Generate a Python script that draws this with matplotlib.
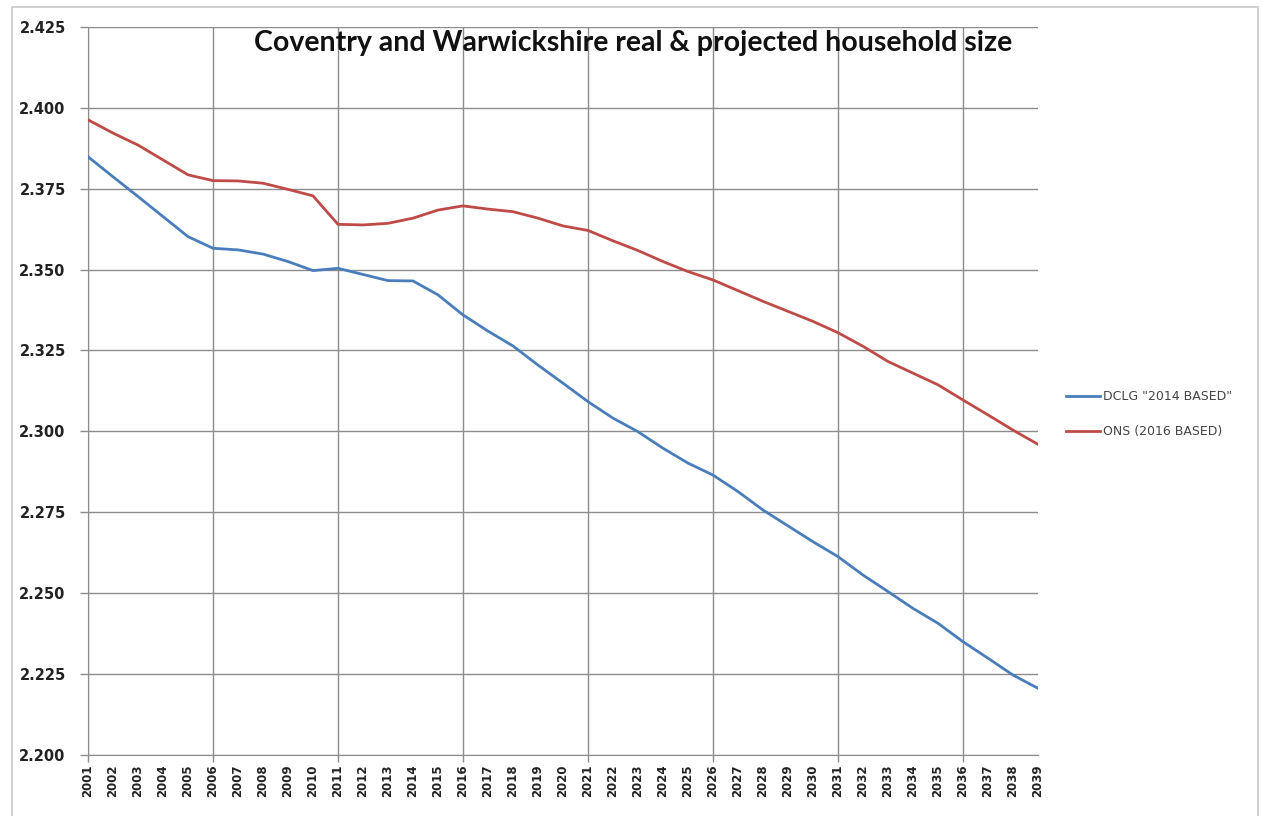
# Coventry and Warwickshire household size - real and projected (2001-2039)
import numpy as np
import matplotlib.pyplot as plt
from matplotlib.patches import Rectangle
from matplotlib.ticker import FixedLocator

years = list(range(2001, 2040))

# DCLG "2014 BASED" (blue line)
dclg_2014 = [2.3849, 2.3787, 2.3726, 2.3664, 2.3602, 2.3566, 2.3561, 2.3548, 2.3525, 2.3497,
             2.3504, 2.3485, 2.3466, 2.3465, 2.3422, 2.3360, 2.3310, 2.3264, 2.3205, 2.3149,
             2.3092, 2.3041, 2.2999, 2.2948, 2.2902, 2.2865, 2.2814, 2.2757, 2.2708, 2.2659,
             2.2613, 2.2556, 2.2505, 2.2453, 2.2407, 2.2350, 2.2299, 2.2247, 2.2206]

# ONS (2016 BASED) (red line)
ons_2016 = [2.3963, 2.3922, 2.3885, 2.3839, 2.3793, 2.3775, 2.3774, 2.3767, 2.3748, 2.3728,
            2.3640, 2.3638, 2.3643, 2.3659, 2.3684, 2.3697, 2.3687, 2.3679, 2.3659, 2.3635,
            2.3621, 2.3589, 2.3559, 2.3525, 2.3494, 2.3468, 2.3435, 2.3402, 2.3371, 2.3340,
            2.3305, 2.3263, 2.3216, 2.3180, 2.3144, 2.3097, 2.3051, 2.3004, 2.2960]

y_ticks = [2.200, 2.225, 2.250, 2.275, 2.300, 2.325, 2.350, 2.375, 2.400, 2.425]

title = "Coventry and Warwickshire real & projected household size"

fig = plt.figure(figsize=(12.62, 8.16), dpi=100)
ax = fig.add_axes([0.0697, 0.0748, 0.7528, 0.8922])

# thin grey frame around the whole chart area
fig.patches.append(Rectangle((0.0095, -0.01), 0.987, 1.002, transform=fig.transFigure,
                             fill=False, edgecolor='#c8c8c8', linewidth=1.2))

ax.plot(years, dclg_2014, color='#4a7ebb', linewidth=2.0, label='DCLG "2014 BASED"', zorder=3)
ax.plot(years, ons_2016, color='#be4b48', linewidth=2.0, label='ONS (2016 BASED)', zorder=3)

ax.set_xlim(years[0], years[-1])
ax.set_ylim(y_ticks[0], y_ticks[-1])

# every year labelled, grid/ticks every 5 years
ax.xaxis.remove_overlapping_locs = False
ax.xaxis.set_major_locator(FixedLocator(years))
ax.set_xticklabels([str(y) for y in years], rotation=90, fontsize=8.5,
                   fontweight='bold', color='#222222')
ax.xaxis.set_minor_locator(FixedLocator(years[::5]))
ax.tick_params(axis='x', which='major', length=0, pad=7)
ax.tick_params(axis='x', which='minor', length=5, color='#8c8c8c', width=1.0)
ax.grid(True, axis='x', which='minor', color='#8c8c8c', linewidth=1.0)

ax.set_yticks(y_ticks)
ax.set_yticklabels([f"{v:.3f}" for v in y_ticks], fontsize=10.5, fontweight='bold', color='#222222')
ax.tick_params(axis='y', length=6, color='#8c8c8c', width=1.0, pad=10)
ax.grid(True, axis='y', color='#8c8c8c', linewidth=1.0)

for side in ['top', 'right']:
    ax.spines[side].set_visible(False)
ax.spines['left'].set_color('#8c8c8c')
ax.spines['bottom'].set_color('#8c8c8c')
ax.set_axisbelow(True)

ax.text(0.574, 0.996, title, transform=ax.transAxes, ha='center', va='top',
        fontsize=20.5, fontweight='bold', family='Lato', color='#111111')

leg = ax.legend(loc='center left', bbox_to_anchor=(1.018, 0.468), frameon=False,
                fontsize=9, handlelength=2.7, handletextpad=0.2, labelspacing=1.8)
for t in leg.get_texts():
    t.set_color('#444444')

fig.savefig('out.png', dpi=100)
